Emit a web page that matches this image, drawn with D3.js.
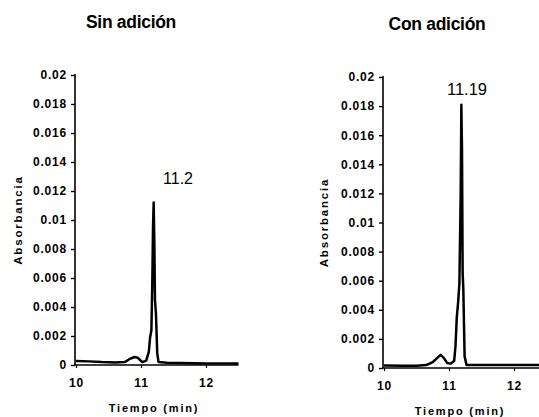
<!DOCTYPE html>
<html>
<head>
<meta charset="utf-8">
<script src="https://cdn.jsdelivr.net/npm/d3@7"></script>
<style>
  html, body { margin: 0; padding: 0; background: #fff; }
  svg { display: block; font-family: "Liberation Sans", Arial, sans-serif; }
</style>
</head>
<body>
<svg id="chart" width="539" height="417"></svg>
<script>
// Chromatograms: absorbance vs retention time, without and with standard addition
const panelTitles = ["Sin adición", "Con adición"];
const peakLabels = ["11.2", "11.19"];
const yTickValues = [0, 0.002, 0.004, 0.006, 0.008, 0.01, 0.012, 0.014, 0.016, 0.018, 0.02];
const yTickLabels = ["0", "0.002", "0.004", "0.006", "0.008", "0.01", "0.012", "0.014", "0.016", "0.018", "0.02"];
const xTickValues = [10, 11, 12];
const xTickLabels = ["10", "11", "12"];
const xLabel = "Tiempo (min)";
const yLabel = "Absorbancia";

// Sin adición
const sinTime = [10.0, 10.2, 10.4, 10.6, 10.75, 10.82, 10.9, 10.95, 11.02, 11.08, 11.12, 11.14, 11.16,
                 11.175, 11.185, 11.195, 11.205, 11.215, 11.23, 11.25, 11.27, 11.4, 12.0, 12.5];
const sinAbs  = [0.00028, 0.00025, 0.0002, 0.00018, 0.0002, 0.0004, 0.00055, 0.0005, 0.0002, 0.0003, 0.0009, 0.0019, 0.0024,
                 0.006, 0.0095, 0.0112, 0.0085, 0.0045, 0.0035, 0.0008, 0.0002, 0.00015, 0.0001, 0.0001];

// Con adición
const conTime = [10.0, 10.3, 10.5, 10.65, 10.75, 10.82, 10.87, 10.92, 10.97, 11.03, 11.08, 11.1, 11.12,
                 11.14, 11.16, 11.18, 11.19, 11.2, 11.21, 11.22, 11.24, 11.27, 11.5, 12.0, 12.5];
const conAbs  = [0.00018, 0.00015, 0.00015, 0.0002, 0.0004, 0.0007, 0.0009, 0.0007, 0.00035, 0.0003, 0.0005, 0.0015, 0.0035,
                 0.0045, 0.0058, 0.012, 0.0181, 0.015, 0.0065, 0.0055, 0.0008, 0.0002, 0.0002, 0.0002, 0.0002];

const svg = d3.select("#chart");

const panels = [
  { title: panelTitles[0], label: peakLabels[0], time: sinTime, abs: sinAbs,
    x0: 76, x1: 238.5, y0: 365, y1: 75, titleX: 131, titleY: 28,
    peakX: 178, peakY: 184, peakSize: 16, yLabelX: 18, xLabelX: 154, xLabelY: 412 },
  { title: panelTitles[1], label: peakLabels[1], time: conTime, abs: conAbs,
    x0: 384, x1: 546.5, y0: 368, y1: 77, titleX: 437, titleY: 30,
    peakX: 467, peakY: 95, peakSize: 16.5, yLabelX: 324, xLabelX: 460, xLabelY: 415 }
];

panels.forEach(p => {
  const x = d3.scaleLinear().domain([10, 12.5]).range([p.x0, p.x1]);
  const y = d3.scaleLinear().domain([0, 0.02]).range([p.y0, p.y1]);
  const g = svg.append("g");

  // title
  g.append("text")
    .attr("x", p.titleX).attr("y", p.titleY)
    .attr("text-anchor", "middle")
    .attr("font-size", 17.5).attr("font-weight", "bold")
    .attr("letter-spacing", -0.3)
    .text(p.title);

  // y axis
  const yAxis = d3.axisLeft(y)
    .tickValues(yTickValues)
    .tickFormat((d, i) => yTickLabels[i])
    .tickSize(4).tickPadding(4);
  const ya = g.append("g").attr("transform", `translate(${p.x0 - 1},0)`).call(yAxis);
  ya.select(".domain").attr("stroke-width", 1.6).attr("d", `M0,${p.y0}V${p.y1 - 1}`);
  ya.selectAll(".tick line").attr("stroke-width", 1.4);
  ya.selectAll(".tick text")
    .attr("font-size", 12).attr("font-weight", "bold")
    .attr("letter-spacing", 0.8)
    .attr("font-family", "'Liberation Sans', Arial, sans-serif")
    .attr("fill", "#000");

  // x axis
  const xAxis = d3.axisBottom(x)
    .tickValues(xTickValues)
    .tickFormat((d, i) => xTickLabels[i])
    .tickSize(3).tickPadding(10);
  const xa = g.append("g").attr("transform", `translate(0,${p.y0})`).call(xAxis);
  xa.select(".domain").attr("stroke-width", 1.6).attr("d", `M${p.x0 - 1},0H${p.x1}`);
  xa.selectAll(".tick line").attr("stroke-width", 1.2);
  xa.selectAll(".tick text")
    .attr("font-size", 12).attr("font-weight", "bold")
    .attr("letter-spacing", 0.8)
    .attr("font-family", "'Liberation Sans', Arial, sans-serif")
    .attr("fill", "#000");

  // axis titles
  g.append("text")
    .attr("x", p.xLabelX).attr("y", p.xLabelY)
    .attr("text-anchor", "middle")
    .attr("font-size", 11).attr("font-weight", "bold")
    .attr("letter-spacing", 1.8)
    .text(xLabel);
  g.append("text")
    .attr("transform", `translate(${p.yLabelX + 4},${(p.y0 + p.y1) / 2}) rotate(-90)`)
    .attr("text-anchor", "middle")
    .attr("font-size", 11.5).attr("font-weight", "bold")
    .attr("letter-spacing", 1.8)
    .text(yLabel);

  // trace
  const pts = p.time.map((t, i) => [t, p.abs[i]]);
  g.append("path")
    .datum(pts)
    .attr("fill", "none")
    .attr("stroke", "#000")
    .attr("stroke-width", 2.5)
    .attr("stroke-linejoin", "round")
    .attr("d", d3.line().x(d => x(d[0])).y(d => y(d[1])));

  // retention time label
  g.append("text")
    .attr("x", p.peakX).attr("y", p.peakY)
    .attr("text-anchor", "middle")
    .attr("font-size", p.peakSize)
    .text(p.label);
});
</script>
</body>
</html>
